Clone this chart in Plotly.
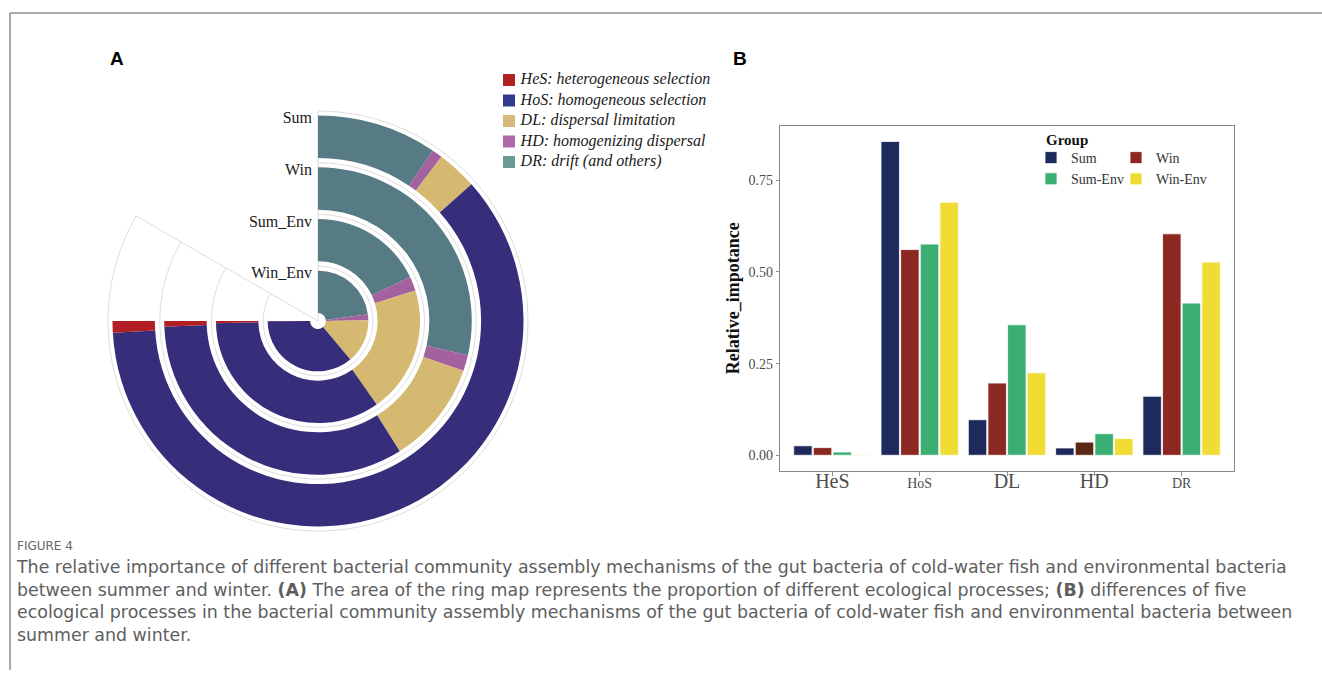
import plotly.graph_objects as go

W, H = 1322, 679


def px(x):
    return x / W


def py(y):
    return 1 - y / H


# ---------------- Panel A: ring map ----------------
rings = ["Win_Env", "Sum_Env", "Win", "Sum"]  # inner -> outer
stack_order = ["DR", "HD", "DL", "HoS", "HeS"]  # clockwise from 12 o'clock

dr_ring = [0.274, 0.215, 0.343, 0.113]
hd_ring = [0.023, 0.027, 0.020, 0.010]
dl_ring = [0.170, 0.241, 0.130, 0.038]
hos_ring = [0.432, 0.413, 0.400, 0.728]
hes_ring = [0.001, 0.004, 0.007, 0.011]

legend_order = ["HeS", "HoS", "DL", "HD", "DR"]
legend_labels = [
    "HeS: heterogeneous selection",
    "HoS: homogeneous selection",
    "DL: dispersal limitation",
    "HD: homogenizing dispersal",
    "DR: drift (and others)",
]

ring_colors = {"DR": "#577b84", "HD": "#a4619f", "DL": "#d5b971",
               "HoS": "#372e7b", "HeS": "#b11f24"}
key_colors = {"HeS": "#b22222", "HoS": "#343a90", "DL": "#d7b979",
              "HD": "#ad69aa", "DR": "#6b9b95"}

# ---------------- Panel B: grouped bars ----------------
categories = ["HeS", "HoS", "DL", "HD", "DR"]
groups = ["Sum", "Win", "Sum-Env", "Win-Env"]
sum_vals = [0.026, 0.856, 0.097, 0.020, 0.161]
win_vals = [0.021, 0.561, 0.197, 0.036, 0.604]
sum_env_vals = [0.009, 0.576, 0.356, 0.059, 0.415]
win_env_vals = [0.002, 0.690, 0.225, 0.046, 0.527]
y_ticks = [0.0, 0.25, 0.5, 0.75]

bar_colors = {"Sum": "#1f2a5c", "Win": "#8b2822", "Sum-Env": "#3bae74",
              "Win-Env": "#f1dc33"}
win_hd_color = "#5b2816"

SERIF = "Liberation Serif, Times New Roman, serif"
SANS = "Liberation Sans, Arial, sans-serif"
CAPTION = "DejaVu Sans, Open Sans, sans-serif"

fig = go.Figure()

# ring geometry (radial axis units)
FULL_TURN = 1.2          # value that would close the full circle
DEG = 360.0 / FULL_TURN  # degrees per unit value
BAND_START = 0.153
BAND_THICK = 0.82
R_MAX = 4.06

ring_data = {"DR": dr_ring, "HD": hd_ring, "DL": dl_ring,
             "HoS": hos_ring, "HeS": hes_ring}

cum = [0.0] * len(rings)
for proc in stack_order:
    vals = ring_data[proc]
    theta = [(c + v / 2) * DEG for c, v in zip(cum, vals)]
    width = [v * DEG for v in vals]
    base = [i + BAND_START for i in range(len(rings))]
    fig.add_trace(go.Barpolar(
        r=[BAND_THICK] * len(rings), base=base, theta=theta, width=width,
        marker=dict(color=ring_colors[proc], line=dict(width=0)),
        showlegend=False, hoverinfo="skip", subplot="polar",
    ))
    cum = [c + v for c, v in zip(cum, vals)]

# ring names along the 12 o'clock spoke
fig.add_trace(go.Scatterpolar(
    r=[i + 0.9 for i in range(len(rings))], theta=[0] * len(rings),
    mode="markers+text", text=rings, textposition="middle left",
    marker=dict(size=8, opacity=0),
    textfont=dict(family=SERIF, size=16, color="#1a1a1a"),
    showlegend=False, hoverinfo="skip", subplot="polar", cliponaxis=False,
))

fig.update_layout(polar=dict(
    domain=dict(x=[px(318 - 210), px(318 + 210)], y=[py(321 + 210), py(321 - 210)]),
    sector=[150, 450],
    bgcolor="white",
    angularaxis=dict(rotation=90, direction="clockwise",
                     tickvals=[0, 60, 120, 180, 240, 300],
                     showticklabels=False, ticks="",
                     gridcolor="#dddddd", gridwidth=1,
                     showline=True, linecolor="#dddddd", linewidth=1,
                     layer="below traces"),
    radialaxis=dict(range=[0, R_MAX], tickvals=[1.06, 2.06, 3.06],
                    showticklabels=False, ticks="", showline=False,
                    gridcolor="#dddddd", gridwidth=1, layer="below traces"),
))

# key for the ring map (drawn on a hidden axis pair)
key_y = list(range(len(legend_order)))
fig.add_trace(go.Scatter(
    x=[0] * len(legend_order), y=key_y, mode="markers",
    marker=dict(symbol="square", size=12, line=dict(width=0),
                color=[key_colors[k] for k in legend_order]),
    xaxis="x3", yaxis="y3", showlegend=False, hoverinfo="skip", cliponaxis=False,
))
fig.add_trace(go.Scatter(
    x=[0.055] * len(legend_order), y=key_y, mode="text",
    text=legend_labels, textposition="middle right",
    textfont=dict(family=SERIF, size=16, color="#1a1a1a", style="italic"),
    xaxis="x3", yaxis="y3", showlegend=False, hoverinfo="skip", cliponaxis=False,
))
fig.update_layout(
    xaxis3=dict(domain=[px(509), px(720)], range=[0, 1], visible=False),
    yaxis3=dict(domain=[py(172.25), py(69.75)], range=[4.5, -0.5], visible=False),
)

# grouped bars
series = [sum_vals, win_vals, sum_env_vals, win_env_vals]
legend_slot = {"Sum": "legend2", "Sum-Env": "legend2", "Win": "legend3", "Win-Env": "legend3"}
for g, vals in zip(groups, series):
    colors = [bar_colors[g]] * len(categories)
    if g == "Win":
        colors[categories.index("HD")] = win_hd_color
    fig.add_trace(go.Bar(
        x=categories, y=vals, name=g,
        marker=dict(color=colors, line=dict(color="white", width=0.8)),
        legend=legend_slot[g], xaxis="x", yaxis="y",
    ))

all_vals = sum_vals + win_vals + sum_env_vals + win_env_vals
ymax = max(all_vals)
pad = 0.05 * ymax

big = [c for c in categories if c not in ("HoS", "DR")]
tick_text = [c if c in big else f'<span style="font-size:14px">{c}</span>' for c in categories]

fig.update_layout(
    barmode="group", bargap=0.1, bargroupgap=0.06,
    xaxis=dict(domain=[px(780), px(1234)], range=[-0.6, len(categories) - 0.4],
               tickvals=categories, ticktext=tick_text,
               tickfont=dict(family=SERIF, size=20, color="#4d4d4d"),
               showline=True, mirror=True, linecolor="#8a8a8a", linewidth=1.2,
               ticks="outside", ticklen=4, tickcolor="#8a8a8a", showgrid=False,
               ticklabelstandoff=-12, anchor="y"),
    yaxis=dict(domain=[py(471), py(125.7)], range=[-pad, ymax + pad],
               tickvals=y_ticks, ticktext=[f"{v:.2f}" for v in y_ticks],
               tickfont=dict(family=SERIF, size=14, color="#4d4d4d"),
               showline=True, mirror=True, linecolor="#8a8a8a", linewidth=1.2,
               ticks="outside", ticklen=3, tickcolor="#8a8a8a", showgrid=False,
               zeroline=False, anchor="x",
               title=dict(text="<b>Relative_impotance</b>", standoff=4,
                          font=dict(family=SERIF, size=18, color="#111111"))),
    legend2=dict(x=px(1031), y=py(142), xanchor="left", yanchor="top",
                 font=dict(family=SERIF, size=14, color="#333"), bgcolor="rgba(0,0,0,0)",
                 tracegroupgap=0),
    legend3=dict(x=px(1116), y=py(142), xanchor="left", yanchor="top",
                 font=dict(family=SERIF, size=14, color="#333"), bgcolor="rgba(0,0,0,0)",
                 tracegroupgap=0),
)

annotations = [
    dict(text="<b>A</b>", x=px(117), y=py(58), font=dict(family=SANS, size=19, color="#000")),
    dict(text="<b>B</b>", x=px(740), y=py(58), font=dict(family=SANS, size=19, color="#000")),
]
for a in annotations:
    a.update(xref="paper", yref="paper", showarrow=False, xanchor="center", yanchor="middle")
annotations.append(dict(text="<b>Group</b>", x=px(1044), y=py(140), xref="paper", yref="paper",
                        showarrow=False, xanchor="left", yanchor="middle",
                        font=dict(family=SERIF, size=15, color="#111")))

caption_lines = [
    "The relative importance of different bacterial community assembly mechanisms of the gut bacteria of cold-water fish and environmental bacteria",
    "between summer and winter. <b>(A)</b> The area of the ring map represents the proportion of different ecological processes; <b>(B)</b> differences of five",
    "ecological processes in the bacterial community assembly mechanisms of the gut bacteria of cold-water fish and environmental bacteria between",
    "summer and winter.",
]
annotations.append(dict(text="FIGURE 4", x=px(15), y=py(546), xref="paper", yref="paper",
                        showarrow=False, xanchor="left", yanchor="middle",
                        font=dict(family=CAPTION, size=12, color="#666666")))
annotations.append(dict(text="<br>".join(caption_lines), x=px(14), y=py(555), xref="paper",
                        yref="paper", showarrow=False, xanchor="left", yanchor="top",
                        align="left",
                        font=dict(family=CAPTION, size=17.4, color="#5e5e5e")))

fig.update_layout(
    width=W, height=H, margin=dict(l=0, r=0, t=0, b=0),
    paper_bgcolor="white", plot_bgcolor="white",
    annotations=annotations,
    shapes=[
        dict(type="line", xref="paper", yref="paper", x0=px(10), x1=1, y0=py(13), y1=py(13),
             line=dict(color="#8c8c8c", width=1.5)),
        dict(type="line", xref="paper", yref="paper", x0=px(10), x1=px(10), y0=py(13), y1=py(670),
             line=dict(color="#8c8c8c", width=1.5)),
    ],
)

fig.write_html("out.html")
